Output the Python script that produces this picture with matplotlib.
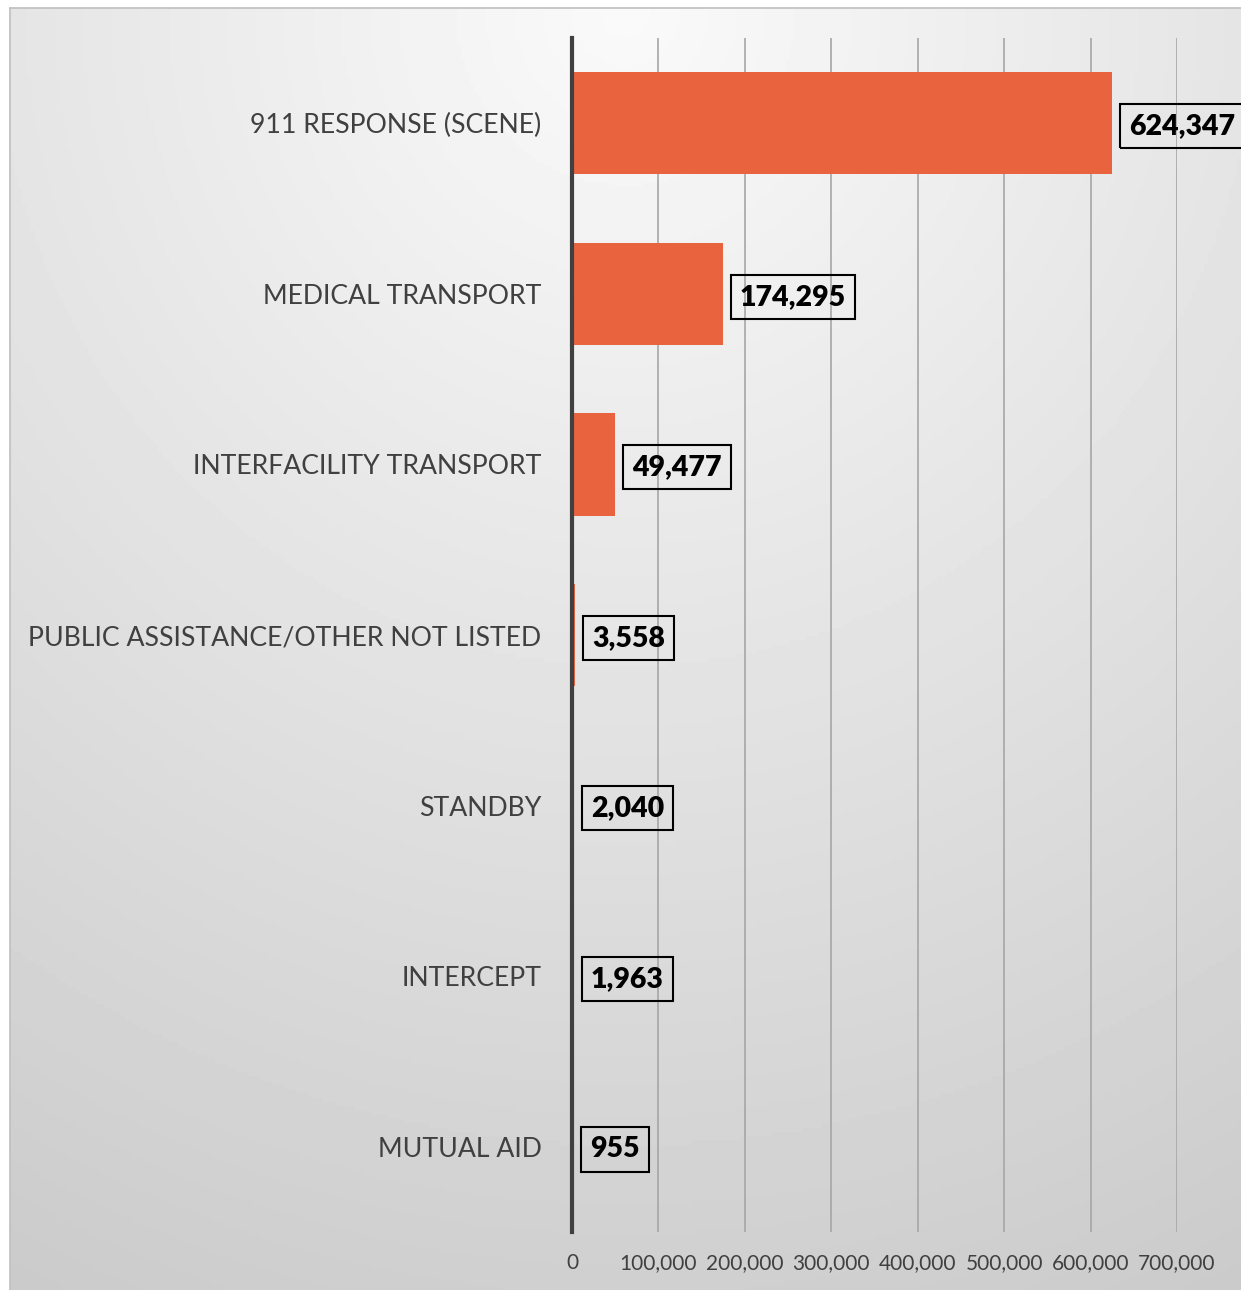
import numpy as np
import matplotlib
matplotlib.use("Agg")
import matplotlib.pyplot as plt
from matplotlib.ticker import FuncFormatter

# data
categories = ["911 RESPONSE (SCENE)", "MEDICAL TRANSPORT", "INTERFACILITY TRANSPORT",
              "PUBLIC ASSISTANCE/OTHER NOT LISTED", "STANDBY", "INTERCEPT", "MUTUAL AID"]
counts = [624347, 174295, 49477, 3558, 2040, 1963, 955]
xticks = [0, 100000, 200000, 300000, 400000, 500000, 600000, 700000]

plt.rcParams['font.family'] = ['Lato', 'DejaVu Sans']

fig = plt.figure(figsize=(12.41, 12.90), dpi=100)

# gradient panel behind the chart (light at top centre, grey toward bottom)
bg = fig.add_axes([10/1241, 0, 1 - 10/1241, 1 - 8/1290])
yy, xx = np.mgrid[0:1:300j, 0:1:300j]
r = np.sqrt(((xx - 0.5) * 1.0) ** 2 + (yy * 1.0) ** 2)
shade = 0.98 - 0.20 * np.clip(r, 0, 1.2) / 1.2
bg.imshow(shade, cmap="gray", vmin=0, vmax=1, aspect="auto", extent=[0, 1, 1, 0])
bg.set_xticks([])
bg.set_yticks([])
for s in bg.spines.values():
    s.set_color("#bfbfbf")
    s.set_linewidth(1.2)
bg.spines['right'].set_visible(False)
bg.spines['bottom'].set_visible(False)

ax = fig.add_axes([572/1241, 1 - 1232/1290, (1177 - 572)/1241, (1232 - 38)/1290])
ax.patch.set_alpha(0)
ypos = np.arange(len(categories))
ax.barh(ypos, counts, height=0.6, color="#E9633F", zorder=3)
ax.set_ylim(len(categories) - 0.5, -0.5)
ax.set_xlim(0, 700000)
ax.set_xticks(xticks)
ax.xaxis.set_major_formatter(FuncFormatter(lambda v, p: f"{int(v):,}"))
ax.set_yticks(ypos)
ax.set_yticklabels(categories)
ax.tick_params(axis='y', length=0, pad=22, labelsize=19.2, labelcolor="#404040")
ax.tick_params(axis='x', length=0, pad=15, labelsize=15, labelcolor="#404040")
ax.grid(axis='x', color="#a6a6a6", linewidth=1.2, zorder=1)
for s in ['top', 'right', 'bottom']:
    ax.spines[s].set_visible(False)
ax.spines['left'].set_color("#404040")
ax.spines['left'].set_linewidth(3)
ax.spines['left'].set_zorder(4)

for y, v in zip(ypos, counts):
    ax.annotate(f"{v:,}", xy=(v, y), xytext=(12.5, -2), textcoords="offset points",
                va="center", ha="left", fontsize=20.5, fontweight="heavy", color="black",
                annotation_clip=False,
                bbox=dict(boxstyle="square,pad=0.32", facecolor="none", edgecolor="black", linewidth=1.5))

fig.savefig("out.png", dpi=100)
